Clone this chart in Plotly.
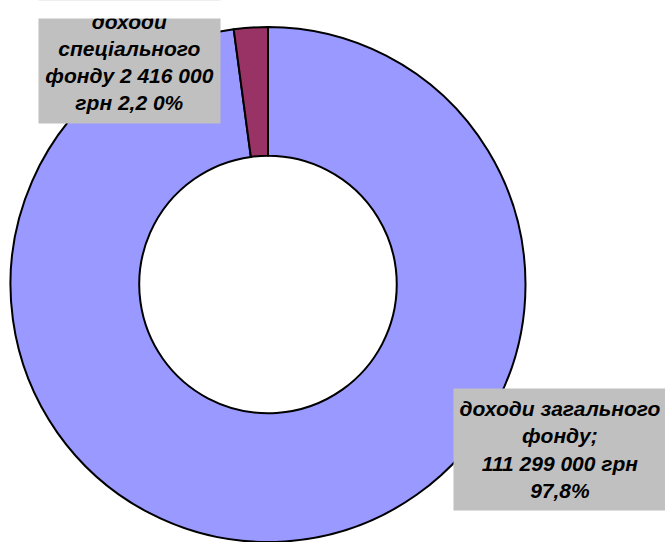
import plotly.graph_objects as go

categories = ["доходи загального фонду", "доходи спеціального фонду"]
values = [111299000, 2416000]
label_texts = [
    "доходи загального<br>фонду;<br>111 299 000 грн<br>97,8%",
    "доходи<br>спеціального<br>фонду 2 416 000<br>грн 2,2 0%",
]
colors = ["#9999FF", "#993366"]

W, H = 665, 542

fig = go.Figure()
fig.add_trace(go.Pie(
    labels=categories,
    values=values,
    hole=0.5,
    sort=False,
    direction="clockwise",
    rotation=0,
    textinfo="none",
    hoverinfo="label+value+percent",
    marker=dict(colors=colors, line=dict(color="black", width=2)),
    domain=dict(x=[10 / W, 526 / W], y=[0, 515 / H]),
    showlegend=False,
))

font = dict(family="Liberation Sans, Arial, sans-serif", size=21, color="black")

# label box of the special fund (top-left)
fig.add_annotation(
    x=38 / W, y=1, xref="paper", yref="paper", xanchor="left", yanchor="top",
    text="<b><i>" + label_texts[1] + "</i></b>", showarrow=False, align="center",
    valign="middle", width=181, height=122, bgcolor="#C0C0C0", borderpad=0,
    font=font,
)
# white cover over the clipped top of the first box
fig.add_annotation(
    x=30 / W, y=1, xref="paper", yref="paper", xanchor="left", yanchor="top",
    text=" ", showarrow=False, width=200, height=17, bgcolor="white", borderpad=0,
    font=dict(size=2),
)
# label box of the general fund (bottom-right)
fig.add_annotation(
    x=453 / W, y=1 - 388 / H, xref="paper", yref="paper", xanchor="left", yanchor="top",
    text="<b><i>" + label_texts[0] + "</i></b>", showarrow=False, align="center",
    valign="middle", width=212, height=121, bgcolor="#C0C0C0", borderpad=0,
    font=font,
)

fig.update_layout(
    width=W, height=H,
    margin=dict(l=0, r=0, t=0, b=0),
    paper_bgcolor="white", plot_bgcolor="white",
)

fig.write_html("out.html", config={"displayModeBar": False},
               post_script="document.body.style.margin='0';")
